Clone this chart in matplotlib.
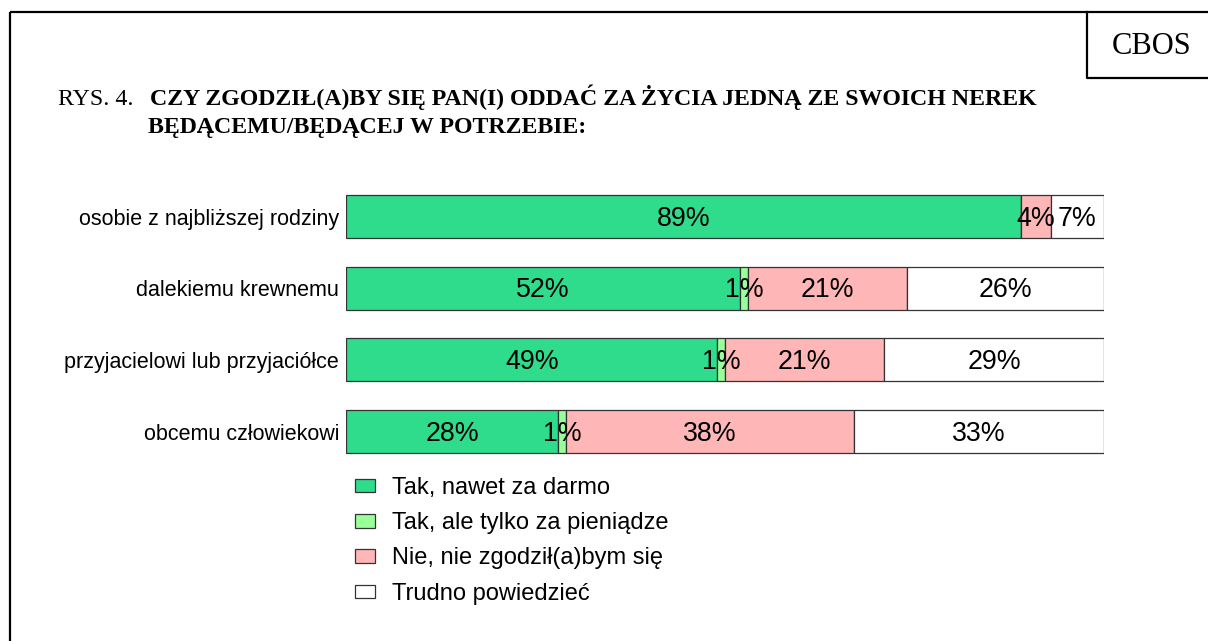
import matplotlib
matplotlib.use("Agg")
import matplotlib.pyplot as plt
import numpy as np

# Dane
categories = [
    "osobie z najbliższej rodziny",
    "dalekiemu krewnemu",
    "przyjacielowi lub przyjaciółce",
    "obcemu człowiekowi",
]
series_names = [
    "Tak, nawet za darmo",
    "Tak, ale tylko za pieniądze",
    "Nie, nie zgodził(a)bym się",
    "Trudno powiedzieć",
]
tak_za_darmo = [89, 52, 49, 28]
tak_za_pieniadze = [0, 1, 1, 1]
nie = [4, 21, 21, 38]
trudno = [7, 26, 29, 33]

colors = ["#2EDC8C", "#99FF99", "#FFB6B6", "#FFFFFF"]

W, H = 1208, 641
fig = plt.figure(figsize=(W / 100, H / 100), dpi=100)

# tło: ramka, tytuł, CBOS (w pikselach)
bg = fig.add_axes([0, 0, 1, 1])
bg.set_xlim(0, W)
bg.set_ylim(H, 0)
bg.axis("off")
bg.plot([10, 10], [12, H + 5], color="black", lw=1.6, solid_capstyle="butt")
bg.plot([10, W + 5], [12, 12], color="black", lw=1.6, solid_capstyle="butt")
bg.plot([1087, 1087, W + 5], [12, 78, 78], color="black", lw=1.6)
bg.text(1152, 46, "CBOS", family="Liberation Serif", fontsize=22,
        ha="center", va="center")
bg.text(58, 105, "RYS. 4.", family="Liberation Serif", fontsize=17.2,
        ha="left", va="baseline")
bg.text(150, 105, "CZY ZGODZIŁ(A)BY SIĘ PAN(I) ODDAĆ ZA ŻYCIA JEDNĄ ZE SWOICH NEREK",
        family="Liberation Serif", fontsize=17.2, weight="bold",
        ha="left", va="baseline")
bg.text(148, 133, "BĘDĄCEMU/BĘDĄCEJ W POTRZEBIE:",
        family="Liberation Serif", fontsize=17.2, weight="bold",
        ha="left", va="baseline")

# wykres słupkowy
ax_left, ax_right = 346 / W, 1104 / W
ax = fig.add_axes([ax_left, 1 - 467.4 / H, ax_right - ax_left, 286.7 / H])
y = np.arange(len(categories))
data = [tak_za_darmo, tak_za_pieniadze, nie, trudno]
left = np.zeros(len(categories))
handles = []
for vals, col, name in zip(data, colors, series_names):
    vals = np.array(vals, dtype=float)
    bars = ax.barh(y, vals, left=left, height=0.6, color=col,
                   edgecolor="#333333", linewidth=0.9, label=name)
    handles.append(bars)
    for yi, v, l in zip(y, vals, left):
        if v > 0:
            ax.text(l + v / 2, yi + 0.03, f"{int(v)}%", ha="center", va="center",
                    fontsize=19.3, family="Liberation Sans")
    left += vals

ax.set_xlim(0, 100)
ax.set_ylim(3.5, -0.5)
ax.set_yticks(y)
ax.set_yticklabels(categories, family="Liberation Sans", fontsize=15.5)
ax.tick_params(axis="y", length=0, pad=5)
ax.set_xticks([])
for s in ax.spines.values():
    s.set_visible(False)

leg = fig.legend(handles=handles, labels=series_names, loc="upper left",
                 bbox_to_anchor=(355 / W, 1 - 477 / H), frameon=False,
                 prop={"family": "Liberation Sans", "size": 17},
                 handlelength=0.85, handleheight=0.5, handletextpad=0.72,
                 labelspacing=0.56, borderpad=0, borderaxespad=0)

fig.savefig("out.png", dpi=100)
